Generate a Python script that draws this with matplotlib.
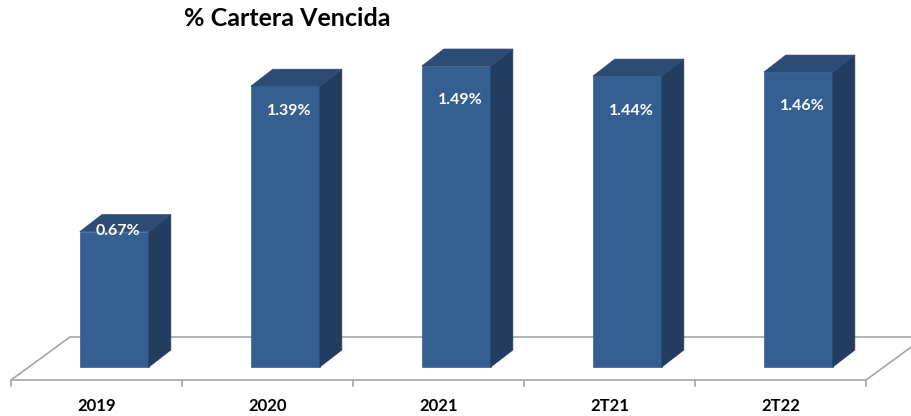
import matplotlib
matplotlib.use("Agg")
import matplotlib.pyplot as plt
from matplotlib.patches import Polygon

# data
categories = ["2019", "2020", "2021", "2T21", "2T22"]
values = [0.67, 1.39, 1.49, 1.44, 1.46]
value_labels = ["0.67%", "1.39%", "1.49%", "1.44%", "1.46%"]

# label drop below bar top (px), as placed in the original
label_drop_px = [-1, 25, 34, 35, 34]

plt.rcParams['font.family'] = ['Lato', 'DejaVu Sans']

W, H = 911, 416
fig = plt.figure(figsize=(W / 100, H / 100), dpi=100)
ax = fig.add_axes([0, 0, 1, 1])

px_x = 171.0   # pixels per category
px_y = 202.0   # pixels per 1%
ax.set_xlim(-11 / px_x, (W - 11) / px_x)
ax.set_ylim(-49 / px_y, (H - 49) / px_y)
ax.axis("off")

n = len(categories)

# floor (3D look)
floor_front = -13 / px_y
floor_dx, floor_dy = 59 / px_x, 43 / px_y
floor = Polygon([(0, floor_front), (n, floor_front),
                 (n + floor_dx, floor_front + floor_dy),
                 (floor_dx, floor_front + floor_dy)],
                closed=True, facecolor="white", edgecolor="#a6a6a6", lw=1.2, zorder=1)
ax.add_patch(floor)
for i in range(n + 1):
    ax.plot([i, i], [floor_front, floor_front - 6 / px_y], color="#a6a6a6", lw=1.2, zorder=1)

# bars
bar_w = 69 / px_x
shift = (-floor_front / floor_dy) * floor_dx
dx, dy = 22 / px_x, 17 / px_y
front_c, side_c, top_c = "#365f91", "#223d5f", "#2c4b75"

for i, v in enumerate(values):
    x0 = i + (1 - bar_w) / 2 + shift
    x1 = x0 + bar_w
    ax.add_patch(Polygon([(x0, 0), (x1, 0), (x1, v), (x0, v)],
                         facecolor=front_c, edgecolor=front_c, lw=0.5, zorder=3))
    ax.add_patch(Polygon([(x1, 0), (x1 + dx, dy), (x1 + dx, v + dy), (x1, v)],
                         facecolor=side_c, edgecolor=side_c, lw=0.5, zorder=3))
    ax.add_patch(Polygon([(x0, v), (x1, v), (x1 + dx, v + dy), (x0 + dx, v + dy)],
                         facecolor=top_c, edgecolor=top_c, lw=0.5, zorder=3))
    ax.text((x0 + x1) / 2 + 4 / px_x, v - label_drop_px[i] / px_y, value_labels[i],
            ha="center", va="center", color="white", fontsize=11.5, fontweight="bold", zorder=4)
    ax.text(i + 0.5, floor_front - 26 / px_y, categories[i],
            ha="center", va="center", color="black", fontsize=12, fontweight="bold")

fig.text(287 / W, 1 - 19 / H, "% Cartera Vencida", ha="center", va="center",
         fontsize=18, fontweight="bold", color="black")

fig.savefig("out.png", dpi=100)
